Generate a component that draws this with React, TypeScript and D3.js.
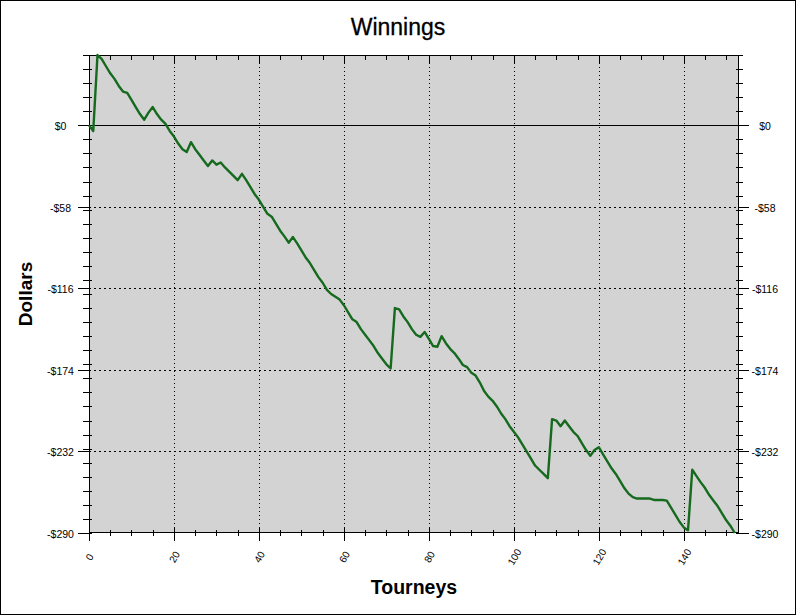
import React from "react";
import * as d3 from "d3";

const values: number[] = [
  0, -4, 50, 47, 42, 37, 33, 28, 24, 23,
  18, 13, 8, 4, 9, 13, 8, 4, 1, -4,
  -8, -13, -17, -19, -12, -17, -21, -25, -29, -25,
  -28, -26.5, -30, -33, -36, -39, -34.5, -39, -44, -49,
  -53, -58, -63, -65, -70, -75, -79, -83.5, -79.5, -84,
  -89, -94, -98, -103, -108, -112, -117, -120, -122, -124,
  -128, -133, -138, -140, -145, -149, -153, -157, -162, -166,
  -170, -173, -130, -131, -136, -140, -145, -149, -150.5, -147,
  -152, -157, -157.5, -150, -155, -159, -162, -166, -170.5, -172,
  -176, -178, -183, -189, -193, -196, -200, -205, -209, -214,
  -218, -222, -227, -232, -237, -242, -245, -248, -251, -209,
  -210, -214, -210, -214, -218, -221, -226, -231, -235, -231,
  -229, -234, -239, -244, -248, -253, -258, -262, -264.5, -265.5,
  -265.5, -265.5, -265.5, -266.5, -266.5, -266.5, -267, -272, -277, -282,
  -286, -288, -245, -249.5, -254, -258, -263, -267, -271, -276,
  -281, -285, -290,
];

const yTickValues: number[] = [0, -58, -116, -174, -232, -290];
const yTickLabels: string[] = ["$0", "-$58", "-$116", "-$174", "-$232", "-$290"];
const xTickValues: number[] = [0, 20, 40, 60, 80, 100, 120, 140];
const title = "Winnings";
const xTitle = "Tourneys";
const yTitle = "Dollars";

const W = 796;
const H = 615;
const L = 89;
const R = 739;
const T = 55;
const B = 533;

export default function App() {
  const x = d3.scaleLinear().domain([0, 153]).range([L, R]);
  const y = d3.scaleLinear().domain([-290, 50]).range([B, T]);
  const line = d3
    .line<number>()
    .x((_, i) => x(i))
    .y((d) => y(d));

  const xMinor = d3.range(0, 153, 5);
  const yMinor = d3.range(-290, 51, 10);
  const font = "'Liberation Sans', Arial, sans-serif";

  return (
    <div style={{ position: "absolute", left: 0, top: 0 }}>
      <svg width={W} height={H} style={{ display: "block" }} fontFamily={font}>
        <rect x={0} y={0} width={W} height={H} fill="#ffffff" />
        <rect x={0.5} y={0.5} width={W - 1} height={H - 1} fill="none" stroke="#000" />
        <text x={398} y={35} textAnchor="middle" fontSize={23} fill="#000" stroke="#000" strokeWidth={0.3}>
          {title}
        </text>
        <rect x={L} y={T} width={R - L} height={B - T} fill="#d3d3d3" />
        {xTickValues.slice(1).map((v) => (
          <line
            key={"vg" + v}
            x1={Math.round(x(v)) + 0.5}
            x2={Math.round(x(v)) + 0.5}
            y1={T}
            y2={B}
            stroke="#000"
            strokeDasharray="1,3"
          />
        ))}
        {yTickValues
          .filter((v) => v !== 0 && v !== -290)
          .map((v) => (
            <line
              key={"hg" + v}
              x1={L}
              x2={R}
              y1={Math.round(y(v)) + 0.5}
              y2={Math.round(y(v)) + 0.5}
              stroke="#000"
              strokeDasharray="2,3"
            />
          ))}
        <line x1={L - 7} x2={R + 7} y1={Math.round(y(0)) + 0.5} y2={Math.round(y(0)) + 0.5} stroke="#000" />
        {yMinor.map((v) => {
          const yy = Math.round(y(v)) + 0.5;
          return (
            <g key={"ym" + v}>
              <line x1={L - 6} x2={L + 3} y1={yy} y2={yy} stroke="#000" />
              <line x1={R - 3} x2={R + 4} y1={yy} y2={yy} stroke="#000" />
            </g>
          );
        })}
        {yTickValues.map((v, i) => {
          const yy = Math.round(y(v)) + 0.5;
          return (
            <g key={"yM" + v}>
              <line x1={L - 11} x2={L} y1={yy} y2={yy} stroke="#000" />
              <line x1={R} x2={R + 10} y1={yy} y2={yy} stroke="#000" />
              <text x={60.5} y={yy + 4} textAnchor="middle" fontSize={10.5} fill="#000">
                {yTickLabels[i]}
              </text>
              <text x={765} y={yy + 4} textAnchor="middle" fontSize={10.5} fill="#000">
                {yTickLabels[i]}
              </text>
            </g>
          );
        })}
        {xMinor.map((v) => {
          const xx = Math.round(x(v)) + 0.5;
          return (
            <g key={"xm" + v}>
              <line x1={xx} x2={xx} y1={B - 3} y2={B + 3} stroke="#000" />
              <line x1={xx} x2={xx} y1={T} y2={T + 5} stroke="#000" />
            </g>
          );
        })}
        {xTickValues.map((v) => {
          const xx = Math.round(x(v)) + 0.5;
          return (
            <g key={"xM" + v}>
              <line x1={xx} x2={xx} y1={B - 6} y2={B + 8} stroke="#000" />
              <line x1={xx} x2={xx} y1={T} y2={T + 8} stroke="#000" />
              <text
                x={xx}
                y={557}
                textAnchor="middle"
                dominantBaseline="central"
                fontSize={10}
                fill="#000"
                transform={`rotate(-60 ${xx} 557)`}
              >
                {v}
              </text>
            </g>
          );
        })}
        <rect x={L + 0.5} y={T + 0.5} width={R - L - 1} height={B - T - 1} fill="none" stroke="#000" />
        <path d={line(values) || ""} fill="none" stroke="#156a1e" strokeWidth={2.4} strokeLinejoin="round" />
        <text x={414} y={594} textAnchor="middle" fontSize={19.5} fontWeight="bold" fill="#000">
          {xTitle}
        </text>
        <text
          x={0}
          y={0}
          textAnchor="middle"
          fontSize={19}
          fontWeight="bold"
          fill="#000"
          transform={`translate(32 294) rotate(-90)`}
        >
          {yTitle}
        </text>
      </svg>
    </div>
  );
}
